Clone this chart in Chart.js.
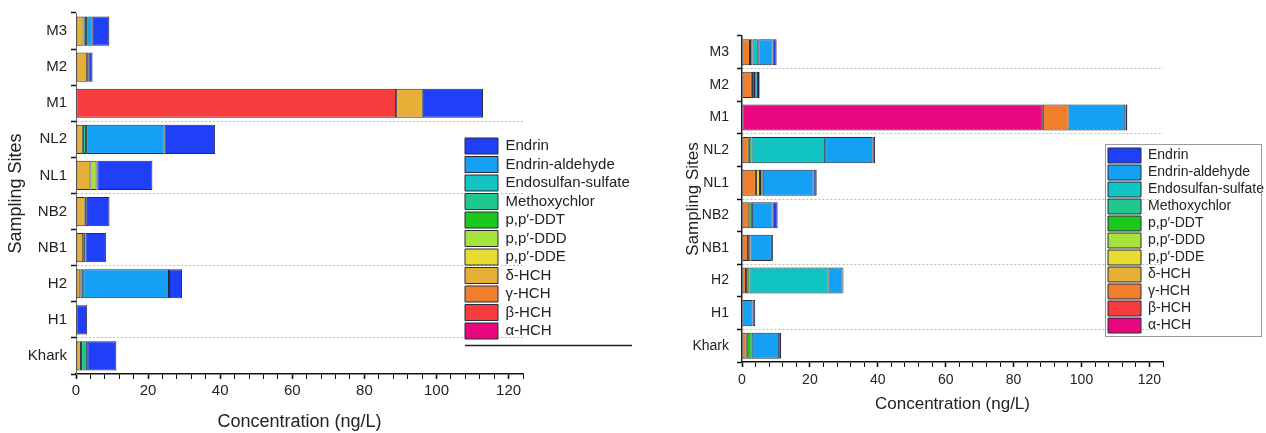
<!DOCTYPE html>
<html>
<head>
<meta charset="utf-8">
<script src="https://cdn.jsdelivr.net/npm/chart.js@4.4.1/dist/chart.umd.min.js"></script>
<style>
    body { margin: 0; background: #fff; width: 1266px; height: 433px; overflow: hidden; position: relative; }
    canvas { position: absolute; top: 0; }
    #chartA { left: 0; }
    #chartB { left: 640px; }
</style>
</head>
<body>
<canvas id="chartA" width="640" height="433"></canvas>
<canvas id="chartB" width="626" height="433"></canvas>
<script>
const FONT = "'Liberation Sans', Arial, sans-serif";

// Các điểm lấy mẫu (từ trên xuống dưới)
const sites = ['M3', 'M2', 'M1', 'NL2', 'NL1', 'NB2', 'NB1', 'H2', 'H1', 'Khark'];

// Tên các chất, theo thứ tự xếp chồng (từ trái sang phải)
const seriesNames = ['α-HCH', 'β-HCH', 'γ-HCH', 'δ-HCH', 'p,p′-DDE', 'p,p′-DDD', 'p,p′-DDT',
    'Methoxychlor', 'Endosulfan-sulfate', 'Endrin-aldehyde', 'Endrin'];
const seriesColors = ['#e8077f', '#f63c3c', '#ef7f2d', '#e6af37', '#e6dc32', '#a8e23c', '#1cc81c',
    '#20c890', '#12c4c4', '#14a0f5', '#2040f8'];

// Nhãn trục X được hiển thị
const xTickValues = [0, 20, 40, 60, 80, 100, 120];

// Biểu đồ bên trái (ng/L)
const leftAlpha = [0, 0, 0, 0, 0, 0, 0, 0, 0, 0];
const leftBeta = [0, 0, 88.8, 0, 0, 0, 0, 0, 0, 0];
const leftGamma = [0, 0, 0, 0, 0, 0, 0, 0, 0, 0];
const leftDelta = [2.1, 3.1, 7.4, 1.9, 4.0, 2.4, 2.0, 1.2, 0, 1.4];
const leftDDE = [0, 0, 0, 0, 0, 0, 0, 0, 0, 0];
const leftDDD = [0, 0, 0, 0, 1.7, 0, 0, 0, 0, 0];
const leftDDT = [0, 0, 0, 0, 0, 0, 0, 0, 0, 0];
const leftMethoxy = [0.7, 0.3, 0, 0.9, 0.2, 0.6, 0.6, 0.8, 0, 1.7];
const leftEndoSulfate = [0, 0, 0, 0, 0, 0, 0, 0, 0, 0];
const leftEndrinAld = [1.85, 0, 0, 21.8, 0, 0, 0, 23.8, 0, 0];
const leftEndrin = [4.6, 1.2, 16.7, 14.0, 15.3, 6.3, 5.7, 3.6, 3.1, 8.1];

// Biểu đồ bên phải (ng/L)
const rightAlpha = [0, 0, 88.6, 0, 0, 0, 0, 0, 0, 0];
const rightBeta = [0, 0, 0, 0, 0, 0, 0, 0, 0, 0];
const rightGamma = [2.35, 2.9, 7.6, 2.0, 4.1, 2.15, 1.8, 1.2, 0, 1.4];
const rightDelta = [0, 0, 0, 0, 0, 0, 0, 0, 0, 0];
const rightDDE = [0, 0, 0, 0, 1.2, 0, 0, 0, 0, 0];
const rightDDD = [0, 0, 0, 0, 0, 0, 0, 0, 0, 0];
const rightDDT = [0.75, 0.6, 0, 0.8, 0.8, 0.75, 0.7, 1.0, 0, 1.45];
const rightMethoxy = [0, 0, 0, 0, 0, 0, 0, 0, 0, 0];
const rightEndoSulfate = [1.7, 0.4, 0, 21.7, 0, 0, 0, 23.3, 0, 0];
const rightEndrinAld = [4.2, 0.8, 16.7, 13.9, 15.0, 6.1, 6.3, 4.1, 3.1, 8.1];
const rightEndrin = [1.2, 0.5, 0.6, 0.8, 0.9, 1.5, 0.3, 0.3, 0.8, 0.6];

const leftValues = [leftAlpha, leftBeta, leftGamma, leftDelta, leftDDE, leftDDD, leftDDT,
    leftMethoxy, leftEndoSulfate, leftEndrinAld, leftEndrin];
const rightValues = [rightAlpha, rightBeta, rightGamma, rightDelta, rightDDE, rightDDD, rightDDT,
    rightMethoxy, rightEndoSulfate, rightEndrinAld, rightEndrin];

// Tạo các dataset từ mảng dữ liệu
function buildDatasets(values) {
    return seriesNames.map((name, i) => ({
        label: name,
        data: values[i],
        backgroundColor: seriesColors[i],
        borderColor: '#2b2b3b',
        borderWidth: 1,
        borderSkipped: false
    }));
}

// Plugin đặt chú giải chồng lên vùng vẽ và vẽ khung / gạch chân
const legendPlacer = {
    id: 'legendPlacer',
    afterLayout(chart, args, opts) {
        const lg = chart.legend;
        const pad = lg.options.labels.padding;
        lg.left = opts.x - pad;
        lg.top = opts.y - pad;
        // mở rộng vùng cắt để chữ không bị cắt mất
        lg.right = chart.width;
        lg.bottom = chart.height;
    },
    afterDraw(chart, args, opts) {
        const ctx = chart.ctx;
        const lab = chart.legend.options.labels;
        const n = chart.data.datasets.length;
        const bottom = opts.y + n * (Math.max(lab.boxHeight, lab.font.size) + lab.padding);
        ctx.save();
        if (opts.frame) {
            ctx.strokeStyle = '#9a9a9a';
            ctx.lineWidth = 1;
            ctx.strokeRect(opts.x - 2.5, opts.y - 3.5, opts.width, bottom - opts.y + 5);
        } else {
            ctx.strokeStyle = '#222';
            ctx.lineWidth = 1.5;
            ctx.beginPath();
            ctx.moveTo(opts.x, bottom + 4);
            ctx.lineTo(opts.x + opts.width, bottom + 4);
            ctx.stroke();
        }
        ctx.restore();
    }
};

function makeChart(id, values, cfg) {
    const ctx = document.getElementById(id).getContext('2d');
    return new Chart(ctx, {
        type: 'bar',
        data: {
            labels: sites,
            datasets: buildDatasets(values)
        },
        options: {
            indexAxis: 'y',
            responsive: false,
            animation: false,
            layout: { padding: cfg.padding },
            datasets: { bar: { categoryPercentage: 1, barPercentage: cfg.barPct } },
            plugins: {
                legend: {
                    position: 'right',
                    align: 'start',
                    reverse: true,
                    maxWidth: cfg.legendMaxWidth,
                    labels: {
                        boxWidth: 33,
                        boxHeight: cfg.boxH,
                        padding: cfg.legendPad,
                        color: '#222',
                        font: { family: FONT, size: cfg.legendFont }
                    }
                },
                tooltip: { enabled: false },
                legendPlacer: cfg.legendSpot
            },
            scales: {
                x: {
                    stacked: true,
                    min: 0,
                    max: 124,
                    ticks: {
                        stepSize: 4,
                        autoSkip: false,
                        maxRotation: 0,
                        padding: cfg.xTickPad,
                        color: '#222',
                        font: { family: FONT, size: cfg.xTickFont },
                        callback: v => xTickValues.includes(v) ? v : ''
                    },
                    grid: {
                        drawOnChartArea: false,
                        tickLength: 5,
                        tickColor: '#111',
                        tickWidth: c => (c.tick && xTickValues.includes(c.tick.value)) ? 1.6 : 1
                    },
                    border: { color: '#111', width: 1.5 },
                    title: {
                        display: true,
                        text: 'Concentration (ng/L)',
                        color: '#222',
                        padding: { top: 0, bottom: cfg.xTitlePad },
                        font: { family: FONT, size: cfg.titleFont }
                    },
                    afterFit: s => { s.height = cfg.xAxisH; }
                },
                y: {
                    stacked: true,
                    ticks: {
                        padding: cfg.yTickPad,
                        color: '#222',
                        font: { family: FONT, size: cfg.yTickFont }
                    },
                    grid: {
                        color: c => cfg.dotted.includes(c.index) ? '#bdbdbd' : 'rgba(0,0,0,0)',
                        lineWidth: 1,
                        tickLength: 5,
                        tickColor: '#111',
                        tickWidth: 1.5
                    },
                    border: { color: cfg.yBorder, width: cfg.yBorderW, dash: [2, 2] },
                    title: {
                        display: true,
                        text: 'Sampling Sites',
                        color: '#222',
                        padding: { top: 4, bottom: 0 },
                        font: { family: FONT, size: cfg.titleFont }
                    },
                    afterFit: s => { s.width = cfg.yAxisW; }
                }
            }
        },
        plugins: [legendPlacer]
    });
}

document.addEventListener('DOMContentLoaded', function () {
    makeChart('chartA', leftValues, {
        padding: { left: 1, top: 13, right: 0, bottom: 0 },
        barPct: 0.81,
        legendMaxWidth: 117,
        boxH: 16, legendPad: 2.5, legendFont: 15,
        legendSpot: { x: 465, y: 138, frame: false, width: 167 },
        xTickPad: 3, xTickFont: 15, xTitlePad: 0, titleFont: 18, xAxisH: 59,
        yTickPad: 4, yTickFont: 15, yAxisW: 75,
        yBorder: '#666', yBorderW: 1,
        dotted: [3, 5, 7, 9]
    });

    makeChart('chartB', rightValues, {
        padding: { left: 39, top: 36, right: 0, bottom: 17 },
        barPct: 0.8,
        legendMaxWidth: 103,
        boxH: 15, legendPad: 2, legendFont: 14,
        legendSpot: { x: 468, y: 148, frame: true, width: 156 },
        xTickPad: 5, xTickFont: 14, xTitlePad: 1, titleFont: 17, xAxisH: 54,
        yTickPad: 8, yTickFont: 14, yAxisW: 63,
        yBorder: '#222', yBorderW: 1.5,
        dotted: [1, 3, 5, 7, 9]
    });
});
</script>
</body>
</html>
